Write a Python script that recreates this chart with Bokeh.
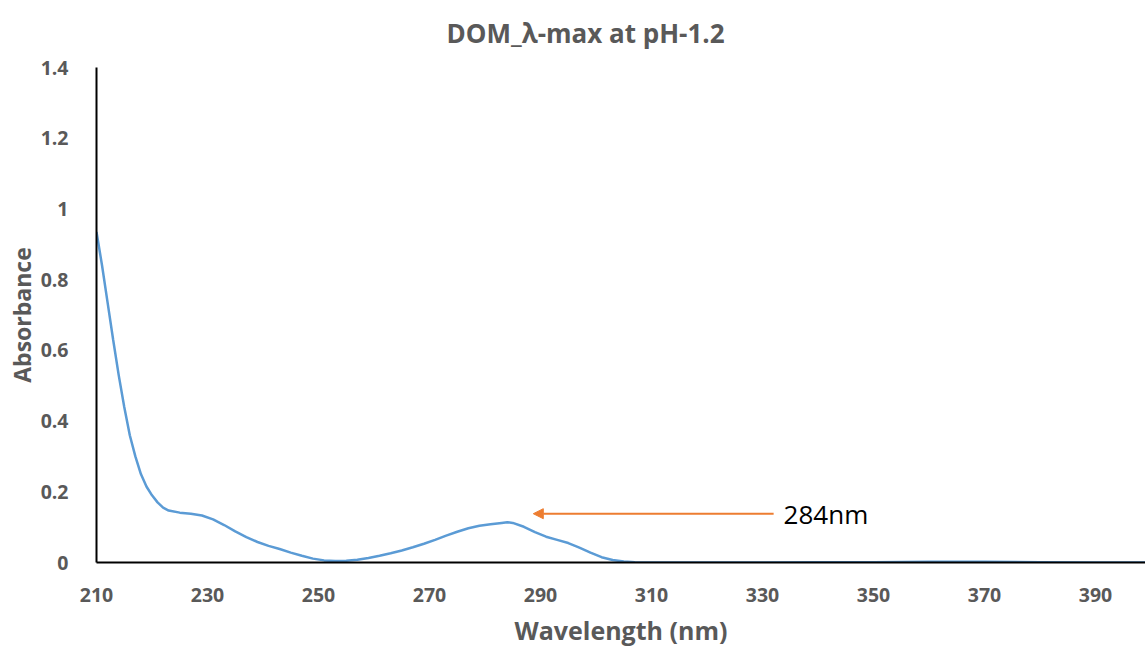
from bokeh.plotting import figure
from bokeh.models import Range1d, FixedTicker, Arrow, NormalHead, Label
from bokeh.embed import file_html
from bokeh.resources import INLINE

# UV-Vis absorbance spectrum of DOM at pH 1.2
wavelength_nm = [
    210, 211, 212, 213, 214, 215, 216, 217, 218, 219, 220, 221, 222, 223,
    225, 227, 229, 231, 233, 235, 237, 239, 241, 243, 245, 247, 249, 251,
    253, 255, 257, 259, 261, 263, 265, 267, 269, 271, 273, 275, 277, 279,
    281, 283, 284, 285, 287, 289, 291, 293, 295, 297, 299, 301, 303, 305,
    307, 310, 320, 330, 340, 350, 360, 370, 380, 390, 400,
]
absorbance = [
    0.935, 0.84, 0.735, 0.63, 0.53, 0.44, 0.36, 0.30, 0.25, 0.215, 0.19, 0.17, 0.155, 0.147,
    0.141, 0.138, 0.133, 0.122, 0.106, 0.088, 0.072, 0.058, 0.047, 0.038, 0.028, 0.019, 0.011, 0.006,
    0.004, 0.005, 0.008, 0.013, 0.019, 0.026, 0.034, 0.043, 0.053, 0.064, 0.076, 0.087, 0.097, 0.104,
    0.108, 0.112, 0.114, 0.112, 0.101, 0.086, 0.073, 0.064, 0.055, 0.042, 0.028, 0.015, 0.007, 0.003,
    0.001, 0.0, 0.0, 0.0, 0.001, 0.001, 0.002, 0.002, 0.001, 0.0, 0.0,
]

x_ticks = [210, 230, 250, 270, 290, 310, 330, 350, 370, 390]
y_ticks = [0, 0.2, 0.4, 0.6, 0.8, 1.0, 1.2, 1.4]
y_tick_labels = ["0", "0.2", "0.4", "0.6", "0.8", "1", "1.2", "1.4"]

chart_title = "DOM_\u03bb-max at pH-1.2"
peak_label = "284nm"
arrow_from = (332.0, 0.138)
arrow_to = (288.7, 0.138)

GRAY = "#595959"
FONT = "Open Sans"

p = figure(
    width=1145, height=654,
    x_range=Range1d(210, 399), y_range=Range1d(0, 1.4),
    output_backend="svg", toolbar_location=None,
    min_border_left=96, min_border_right=0,
    min_border_top=64, min_border_bottom=92,
    title=chart_title,
)
p.outline_line_color = None
p.background_fill_color = "white"
p.border_fill_color = "white"
p.xgrid.visible = False
p.ygrid.visible = False

p.title.align = "left"
p.title.offset = 350
p.title.vertical_align = "top"
p.title.standoff = 29
p.title.text_font = FONT
p.title.text_font_size = "26px"
p.title.text_font_style = "bold"
p.title.text_color = GRAY

p.line(wavelength_nm, absorbance, line_color="#5B9BD5", line_width=2.5)

for ax in (p.xaxis[0], p.yaxis[0]):
    ax.axis_line_color = "black"
    ax.axis_line_width = 2
    ax.major_tick_line_color = None
    ax.minor_tick_line_color = None
    ax.major_label_text_font = FONT
    ax.major_label_text_font_size = "19.5px"
    ax.major_label_text_font_style = "bold"
    ax.major_label_text_color = GRAY
    ax.axis_label_text_font = FONT
    ax.axis_label_text_font_style = "bold"
    ax.axis_label_text_color = GRAY

p.xaxis.ticker = FixedTicker(ticks=x_ticks)
p.xaxis.major_label_standoff = 19
p.xaxis.axis_label = "Wavelength (nm)"
p.xaxis.axis_label_text_font_size = "25px"
p.xaxis.axis_label_standoff = 8

p.yaxis.ticker = FixedTicker(ticks=y_ticks)
p.yaxis.major_label_overrides = {t: s for t, s in zip(y_ticks, y_tick_labels)}
p.yaxis.major_label_standoff = 22
p.yaxis.axis_label = "Absorbance"
p.yaxis.axis_label_text_font_size = "23px"
p.yaxis.axis_label_standoff = 0

orange = "#ED7D31"
p.add_layout(Arrow(
    end=NormalHead(size=10, fill_color=orange, line_color=orange),
    x_start=arrow_from[0], y_start=arrow_from[1],
    x_end=arrow_to[0], y_end=arrow_to[1],
    line_color=orange, line_width=2,
))
p.add_layout(Label(
    x=arrow_from[0] + 1.8, y=arrow_from[1], text=peak_label,
    text_baseline="middle", text_font=FONT, text_font_size="26px",
    text_color="black",
))

open("out.html", "w").write(file_html(p, INLINE))
